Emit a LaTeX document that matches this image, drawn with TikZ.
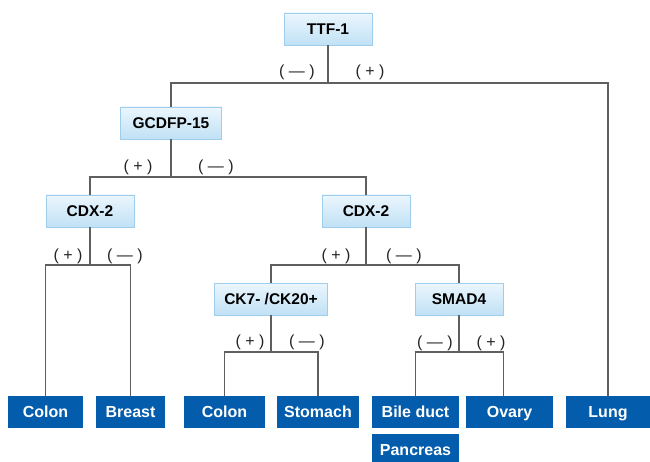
\documentclass[tikz,border=0pt]{standalone}
\usepackage{fontspec}
\setmainfont{Liberation Sans}

\definecolor{markertop}{RGB}{236,246,253}
\definecolor{markerbottom}{RGB}{192,225,245}
\definecolor{markerline}{RGB}{158,206,236}
\definecolor{siteblue}{RGB}{4,92,172}
\definecolor{linegray}{RGB}{95,95,95}
\definecolor{signgray}{RGB}{35,35,35}

\tikzstyle{marker} = [draw = markerline, top color = markertop, bottom color = markerbottom,
  minimum width = 88pt, minimum height = 32pt, inner sep = 0pt, text height = 11.5pt, text depth = 0pt,
  font = \fontsize{15.5}{18}\selectfont\bfseries]
\tikzstyle{site} = [fill = siteblue, text = white, minimum height = 32pt, inner sep = 0pt,
  text height = 11.5pt, text depth = 0pt, font = \fontsize{16}{18}\selectfont\bfseries]
\tikzstyle{sign} = [text = signgray, inner sep = 0pt, font = \fontsize{16}{18}\selectfont]
\tikzstyle{branch} = [line width = 1.6pt, draw = linegray]

\begin{document}
\begin{tikzpicture}[x = 1pt, y = -1pt]
      \useasboundingbox (0, 0) rectangle (650, 462);

      % Markers
      \node (ttf)   at (328,  29) [marker] {TTF-1};
      \node (gcdfp) at (171, 123) [marker, minimum width = 101pt] {GCDFP-15};
      \node (cdxa)  at ( 90, 211) [marker] {CDX-2};
      \node (cdxb)  at (366, 211) [marker] {CDX-2};
      \node (ck)    at (271, 299) [marker, minimum width = 113pt] {CK7- /CK20+};
      \node (smad)  at (459, 299) [marker] {SMAD4};
      % Sites
      \node (colona)   at ( 45.5, 412) [site, minimum width = 75pt] {Colon};
      \node (breast)   at (130.5, 412) [site, minimum width = 69pt] {Breast};
      \node (colonb)   at (224.5, 412) [site, minimum width = 81pt] {Colon};
      \node (stomach)  at (318,   412) [site, minimum width = 82pt] {Stomach};
      \node (bile)     at (415.5, 412) [site, minimum width = 87pt] {Bile duct};
      \node (ovary)    at (509.5, 412) [site, minimum width = 87pt] {Ovary};
      \node (lung)     at (608,   412) [site, minimum width = 84pt] {Lung};
      \node (pancreas) at (415.5, 450) [site, minimum width = 87pt] {Pancreas};

      % Branches
      \coordinate (j1) at (328,  83);
      \coordinate (j2) at (171, 177);
      \coordinate (j3) at ( 90, 265);
      \coordinate (j4) at (366, 265);
      \coordinate (j5) at (271, 352);
      \coordinate (j6) at (459, 352);
      \draw[branch] (ttf) -- (j1);
      \draw[branch] (gcdfp) |- (j1) -| (lung);
      \draw[branch] (gcdfp) -- (j2);
      \draw[branch] (cdxa) |- (j2) -| (cdxb);
      \draw[branch] (cdxa) -- (j3);
      \draw[branch] (colona) |- (j3) -| (breast);
      \draw[branch] (cdxb) -- (j4);
      \draw[branch] (ck) |- (j4) -| (smad);
      \draw[branch] (ck) -- (j5);
      \draw[branch] (colonb) |- (j5) -| (stomach);
      \draw[branch] (smad) -- (j6);
      \draw[branch] (bile) |- (j6) -| ([xshift = -6pt]ovary.north);

      % Signs
      \node (s1a) at (297,  72) [sign] {( — )};
      \node (s1b) at (370,  72) [sign] {( + )};
      \node (s2a) at (138, 167) [sign] {( + )};
      \node (s2b) at (216, 167) [sign] {( — )};
      \node (s3a) at ( 68, 256) [sign] {( + )};
      \node (s3b) at (125, 256) [sign] {( — )};
      \node (s4a) at (336, 256) [sign] {( + )};
      \node (s4b) at (404, 256) [sign] {( — )};
      \node (s5a) at (250, 342) [sign] {( + )};
      \node (s5b) at (307, 342) [sign] {( — )};
      \node (s6a) at (435, 343) [sign] {( — )};
      \node (s6b) at (491, 343) [sign] {( + )};
    \end{tikzpicture}
\end{document}
